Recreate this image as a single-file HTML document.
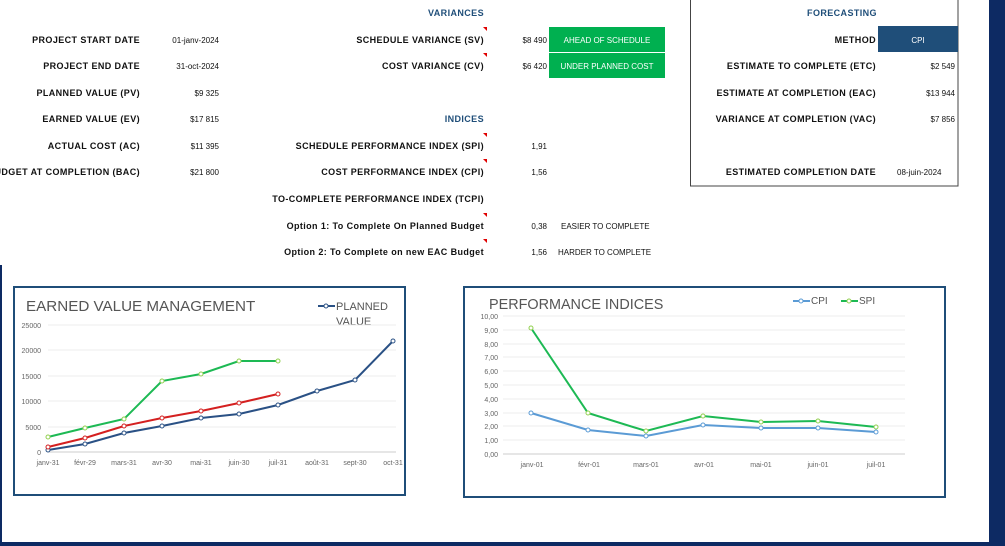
<!DOCTYPE html>
<html><head><meta charset="utf-8"><style>
body{margin:0;background:#fff;width:1005px;height:546px;overflow:hidden}
svg{display:block}
.l{font-family:"Liberation Sans",sans-serif;font-size:9px;font-weight:bold;fill:#111;letter-spacing:0.4px}
.v{font-family:"Liberation Sans",sans-serif;font-size:8px;fill:#111}
.h{font-family:"Liberation Sans",sans-serif;font-size:9px;font-weight:bold;fill:#1f4e79;letter-spacing:0.4px}
.ax{font-family:"Liberation Sans",sans-serif;font-size:7px;fill:#666}
.t{font-family:"Liberation Sans",sans-serif;fill:#555}
</style></head><body>
<svg width="1005" height="546" viewBox="0 0 1005 546">
<rect x="989" y="0" width="16" height="546" fill="#0d2a63"/>
<rect x="0" y="542" width="1005" height="4" fill="#0d2a63"/>
<rect x="0" y="265" width="2" height="280" fill="#0d2a63"/>
<g text-anchor="end">
<text class="l" x="140" y="43">PROJECT START DATE</text>
<text class="l" x="140" y="69">PROJECT END DATE</text>
<text class="l" x="140" y="96">PLANNED VALUE (PV)</text>
<text class="l" x="140" y="122">EARNED VALUE (EV)</text>
<text class="l" x="140" y="149">ACTUAL COST (AC)</text>
<text class="l" x="140" y="175">BUDGET AT COMPLETION (BAC)</text>
<text class="v" x="219" y="43">01-janv-2024</text>
<text class="v" x="219" y="69">31-oct-2024</text>
<text class="v" x="219" y="96">$9 325</text>
<text class="v" x="219" y="122">$17 815</text>
<text class="v" x="219" y="149">$11 395</text>
<text class="v" x="219" y="175">$21 800</text>
<text class="h" x="484" y="16">VARIANCES</text>
<text class="l" x="484" y="43">SCHEDULE VARIANCE (SV)</text>
<text class="l" x="484" y="69">COST VARIANCE (CV)</text>
<text class="h" x="484" y="122">INDICES</text>
<text class="l" x="484" y="149">SCHEDULE PERFORMANCE INDEX (SPI)</text>
<text class="l" x="484" y="175">COST PERFORMANCE INDEX (CPI)</text>
<text class="l" x="484" y="202">TO-COMPLETE PERFORMANCE INDEX (TCPI)</text>
<text class="l" x="484" y="229">Option 1: To Complete On Planned Budget</text>
<text class="l" x="484" y="255">Option 2: To Complete on new EAC Budget</text>
<text class="v" x="547" y="43">$8 490</text>
<text class="v" x="547" y="69">$6 420</text>
<text class="v" x="547" y="149">1,91</text>
<text class="v" x="547" y="175">1,56</text>
<text class="v" x="547" y="229">0,38</text>
<text class="v" x="547" y="255">1,56</text>
<text class="l" x="876" y="43">METHOD</text>
<text class="l" x="876" y="69">ESTIMATE TO COMPLETE (ETC)</text>
<text class="l" x="876" y="96">ESTIMATE AT COMPLETION (EAC)</text>
<text class="l" x="876" y="122">VARIANCE AT COMPLETION (VAC)</text>
<text class="l" x="876" y="175">ESTIMATED COMPLETION DATE</text>
<text class="v" x="955" y="69">$2 549</text>
<text class="v" x="955" y="96">$13 944</text>
<text class="v" x="955" y="122">$7 856</text>
</g>
<g fill="#e00000">
<polygon points="483,27 487,27 487,31"/><polygon points="483,53 487,53 487,57"/>
<polygon points="483,133 487,133 487,137"/><polygon points="483,159 487,159 487,163"/>
<polygon points="483,213 487,213 487,217"/><polygon points="483,239 487,239 487,243"/>
</g>
<rect x="549" y="27" width="116" height="25" fill="#00b050"/>
<rect x="549" y="53" width="116" height="25" fill="#00b050"/>
<text class="v" x="607" y="43" style="fill:#fff" text-anchor="middle">AHEAD OF SCHEDULE</text>
<text class="v" x="607" y="69" style="fill:#fff" text-anchor="middle">UNDER PLANNED COST</text>
<text class="v" x="561" y="229">EASIER TO COMPLETE</text>
<text class="v" x="558" y="255">HARDER TO COMPLETE</text>
<rect x="690.5" y="-2" width="267.5" height="188" fill="none" stroke="#444" stroke-width="1"/>
<text class="h" x="842" y="16" text-anchor="middle">FORECASTING</text>
<rect x="878" y="26" width="80" height="26" fill="#1f4e79"/>
<text class="v" x="918" y="43" style="fill:#fff" text-anchor="middle">CPI</text>
<text class="v" x="897" y="175">08-juin-2024</text>

<rect x="14" y="287" width="391" height="208" fill="#fff" stroke="#1f4e79" stroke-width="2"/>
<text class="t" x="26" y="311" font-size="15.2">EARNED VALUE MANAGEMENT</text>
<line x1="318" y1="306" x2="335" y2="306" stroke="#2a5185" stroke-width="2"/><circle cx="326" cy="306" r="2" fill="#fff" stroke="#2a5185"/>
<text class="t" x="336" y="310" font-size="11">PLANNED</text>
<text class="t" x="336" y="325" font-size="11">VALUE</text>
<g stroke="#eee">
<line x1="48" y1="325" x2="396" y2="325"/><line x1="48" y1="350" x2="396" y2="350"/><line x1="48" y1="376" x2="396" y2="376"/><line x1="48" y1="401" x2="396" y2="401"/><line x1="48" y1="427" x2="396" y2="427"/></g>
<line x1="48" y1="452" x2="396" y2="452" stroke="#ccc"/>
<g class="ax" text-anchor="end">
<text x="41" y="328">25000</text><text x="41" y="353">20000</text><text x="41" y="379">15000</text><text x="41" y="404">10000</text><text x="41" y="430">5000</text><text x="41" y="455">0</text></g>
<g class="ax" text-anchor="middle">
<text x="48" y="465">janv-31</text><text x="85" y="465">févr-29</text><text x="124" y="465">mars-31</text><text x="162" y="465">avr-30</text><text x="201" y="465">mai-31</text><text x="239" y="465">juin-30</text><text x="278" y="465">juil-31</text><text x="317" y="465">août-31</text><text x="355" y="465">sept-30</text><text x="393" y="465">oct-31</text></g>
<g stroke-width="2">
<polyline points="48,450 85,444 124,433 162,426 201,418 239,414 278,405 317,391 355,380 393,341" fill="none" stroke="#2a5185"/>
<polyline points="48,447 85,438 124,426 162,418 201,411 239,403 278,394" fill="none" stroke="#d42020"/>
<polyline points="48,437 85,428 124,419 162,381 201,374 239,361 278,361" fill="none" stroke="#1db954"/>
</g>
<g fill="#fff" stroke-width="1">
<g stroke="#2a5185"><circle cx="48" cy="450" r="2"/><circle cx="85" cy="444" r="2"/><circle cx="124" cy="433" r="2"/><circle cx="162" cy="426" r="2"/><circle cx="201" cy="418" r="2"/><circle cx="239" cy="414" r="2"/><circle cx="278" cy="405" r="2"/><circle cx="317" cy="391" r="2"/><circle cx="355" cy="380" r="2"/><circle cx="393" cy="341" r="2"/></g>
<g stroke="#d42020"><circle cx="48" cy="447" r="2"/><circle cx="85" cy="438" r="2"/><circle cx="124" cy="426" r="2"/><circle cx="162" cy="418" r="2"/><circle cx="201" cy="411" r="2"/><circle cx="239" cy="403" r="2"/><circle cx="278" cy="394" r="2"/></g>
<g stroke="#92d050"><circle cx="48" cy="437" r="2"/><circle cx="85" cy="428" r="2"/><circle cx="124" cy="419" r="2"/><circle cx="162" cy="381" r="2"/><circle cx="201" cy="374" r="2"/><circle cx="239" cy="361" r="2"/><circle cx="278" cy="361" r="2"/></g>
</g>

<rect x="464" y="287" width="481" height="210" fill="#fff" stroke="#1f4e79" stroke-width="2"/>
<text class="t" x="489" y="309" font-size="14.4">PERFORMANCE INDICES</text>
<line x1="793" y1="301" x2="810" y2="301" stroke="#5b9bd5" stroke-width="2"/><circle cx="801" cy="301" r="2" fill="#fff" stroke="#5b9bd5"/>
<text class="t" x="811" y="304" font-size="10">CPI</text>
<line x1="841" y1="301" x2="858" y2="301" stroke="#1db954" stroke-width="2"/><circle cx="849" cy="301" r="2" fill="#fff" stroke="#92d050"/>
<text class="t" x="859" y="304" font-size="10">SPI</text>
<g stroke="#eee">
<line x1="503" y1="316" x2="905" y2="316"/><line x1="503" y1="330" x2="905" y2="330"/><line x1="503" y1="344" x2="905" y2="344"/><line x1="503" y1="357" x2="905" y2="357"/><line x1="503" y1="371" x2="905" y2="371"/><line x1="503" y1="385" x2="905" y2="385"/><line x1="503" y1="399" x2="905" y2="399"/><line x1="503" y1="413" x2="905" y2="413"/><line x1="503" y1="426" x2="905" y2="426"/><line x1="503" y1="440" x2="905" y2="440"/></g>
<line x1="503" y1="454" x2="905" y2="454" stroke="#ccc"/>
<g class="ax" text-anchor="end">
<text x="498" y="319">10,00</text><text x="498" y="333">9,00</text><text x="498" y="347">8,00</text><text x="498" y="360">7,00</text><text x="498" y="374">6,00</text><text x="498" y="388">5,00</text><text x="498" y="402">4,00</text><text x="498" y="416">3,00</text><text x="498" y="429">2,00</text><text x="498" y="443">1,00</text><text x="498" y="457">0,00</text></g>
<g class="ax" text-anchor="middle">
<text x="532" y="467">janv-01</text><text x="589" y="467">févr-01</text><text x="646" y="467">mars-01</text><text x="704" y="467">avr-01</text><text x="761" y="467">mai-01</text><text x="818" y="467">juin-01</text><text x="876" y="467">juil-01</text></g>
<polyline points="531,413 588,430 646,436 703,425 761,428 818,428 876,432" fill="none" stroke="#5b9bd5" stroke-width="2"/>
<polyline points="531,328 588,413 646,431 703,416 761,422 818,421 876,427" fill="none" stroke="#1db954" stroke-width="2"/>
<g fill="#fff">
<g stroke="#5b9bd5"><circle cx="531" cy="413" r="2"/><circle cx="588" cy="430" r="2"/><circle cx="646" cy="436" r="2"/><circle cx="703" cy="425" r="2"/><circle cx="761" cy="428" r="2"/><circle cx="818" cy="428" r="2"/><circle cx="876" cy="432" r="2"/></g>
<g stroke="#92d050"><circle cx="531" cy="328" r="2"/><circle cx="588" cy="413" r="2"/><circle cx="646" cy="431" r="2"/><circle cx="703" cy="416" r="2"/><circle cx="761" cy="422" r="2"/><circle cx="818" cy="421" r="2"/><circle cx="876" cy="427" r="2"/></g>
</g>
</svg>
</body></html>
